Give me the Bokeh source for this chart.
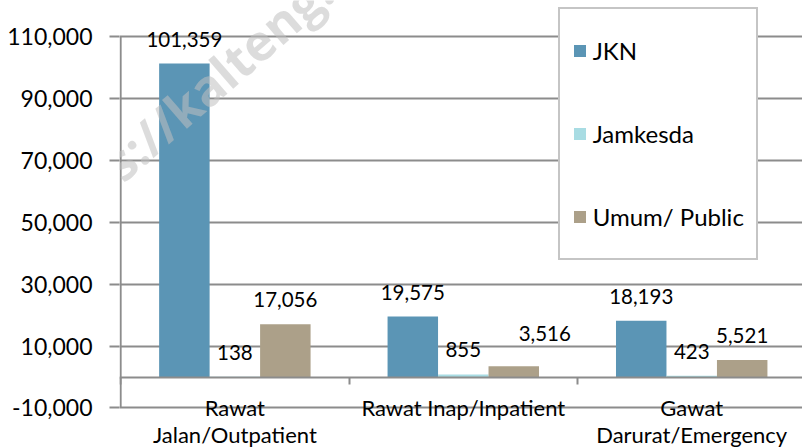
from bokeh.plotting import figure
from bokeh.models import (ColumnDataSource, Range1d, FixedTicker, NumeralTickFormatter,
                          LabelSet, Legend, LegendItem, Label)
from bokeh.core.properties import value
from bokeh.embed import file_html
from bokeh.resources import INLINE

# ---- data ----
categories = ["Rawat\nJalan/Outpatient", "Rawat Inap/Inpatient", "Gawat\nDarurat/Emergency"]
series = ["JKN", "Jamkesda", "Umum/ Public"]
jkn = [101359, 19575, 18193]
jamkesda = [138, 855, 423]
umum = [17056, 3516, 5521]
y_ticks = [-10000, 10000, 30000, 50000, 70000, 90000, 110000]

# ---- style ----
colors = ["#5B95B5", "#A8DCE3", "#ACA089"]
label_dx = [[0, 0, 0], [0, 0, 0], [0, 31, 0]]
label_dy = [[24.5, 24.5, 24.5], [24.5, 24.5, 24.5], [24.5, 33, 24.5]]
FONT = "Lato"
GRID = "#8C8C8C"
BAR_W = 0.221
CAT_LINE_PITCH = 27

p = figure(width=802, height=447, output_backend="svg", toolbar_location=None,
           x_range=Range1d(-0.005, 2.985), y_range=Range1d(-22770, 121735),
           min_border_left=119, min_border_top=0, min_border_right=0,
           min_border_bottom=0)
p.outline_line_color = None
p.background_fill_color = "white"
p.border_fill_color = "white"

centers = [i + 0.5 for i in range(len(categories))]
values = [jkn, jamkesda, umum]
renderers = []
for k, (vals, col) in enumerate(zip(values, colors)):
    xs = [c + (k - 1) * BAR_W for c in centers]
    src = ColumnDataSource(dict(x=xs, top=vals,
                                label=[f"{v:,}" for v in vals],
                                dx=label_dx[k], dy=label_dy[k]))
    r = p.vbar(x="x", top="top", bottom=0, width=BAR_W, fill_color=col,
               line_color=None, source=src)
    renderers.append(r)
    p.add_layout(LabelSet(x="x", y="top", text="label", source=src,
                          x_offset="dx", y_offset="dy",
                          text_align="center", text_baseline="middle",
                          text_font=value(FONT), text_font_size="20.5px",
                          text_color="black"))

# y axis (line drawn only over the tick span)
p.yaxis.ticker = FixedTicker(ticks=y_ticks)
p.yaxis.formatter = NumeralTickFormatter(format="0,0")
p.yaxis.major_label_text_font = FONT
p.yaxis.major_label_text_font_size = "23px"
p.yaxis.major_label_text_color = "black"
p.yaxis.axis_line_color = None
p.yaxis.major_tick_out = 10
p.yaxis.major_tick_in = 0
p.yaxis.major_tick_line_color = GRID
p.yaxis.major_tick_line_width = 2
p.yaxis.minor_tick_line_color = None
p.yaxis.major_label_standoff = 17
p.segment(x0=[0], y0=[min(y_ticks)], x1=[0], y1=[max(y_ticks)],
          line_color=GRID, line_width=2)
p.ygrid.ticker = FixedTicker(ticks=y_ticks)
p.ygrid.grid_line_color = GRID
p.ygrid.grid_line_width = 2
p.xgrid.grid_line_color = None

# category axis crossing at zero: line + separator ticks
p.xaxis.ticker = FixedTicker(ticks=[], minor_ticks=list(range(len(categories) + 1)))
p.xaxis.fixed_location = 0
p.xaxis.axis_line_color = GRID
p.xaxis.axis_line_width = 2
p.xaxis.major_tick_line_color = None
p.xaxis.minor_tick_out = 7
p.xaxis.minor_tick_in = 0
p.xaxis.minor_tick_line_color = GRID
p.xaxis.minor_tick_line_width = 2

# category labels, one centred text per line
cx, cy, ctext, coff = [], [], [], []
for c, cat in zip(centers, categories):
    for j, line in enumerate(cat.split("\n")):
        cx.append(c)
        cy.append(0)
        ctext.append(line)
        coff.append(-17 - CAT_LINE_PITCH * j)
cat_src = ColumnDataSource(dict(x=cx, y=cy, text=ctext, dy=coff))
p.add_layout(LabelSet(x="x", y="y", text="text", source=cat_src, y_offset="dy",
                      text_align="center", text_baseline="top",
                      text_font=value(FONT), text_font_size="22px",
                      text_color="black"))

legend = Legend(items=[LegendItem(label=s, renderers=[r]) for s, r in zip(series, renderers)],
                location=(438.7, 187), glyph_width=15, glyph_height=15,
                label_standoff=6, padding=12, spacing=24, label_height=59,
                label_width=148, border_line_color=GRID, border_line_width=2,
                background_fill_color="white", background_fill_alpha=1.0,
                label_text_font=FONT, label_text_font_size="24px",
                label_text_color="black", margin=0)
p.add_layout(legend)

wm = Label(x=-0.399, y=44150, text="https://kalteng.bps.go.id", angle=41,
           angle_units="deg", text_font="Open Sans", text_font_style="bold",
           text_font_size="50px", text_color="#C0C0C0", text_alpha=0.55,
           text_align="left", text_baseline="alphabetic", level="overlay")
p.add_layout(wm)

open("out.html", "w").write(file_html(p, INLINE))
